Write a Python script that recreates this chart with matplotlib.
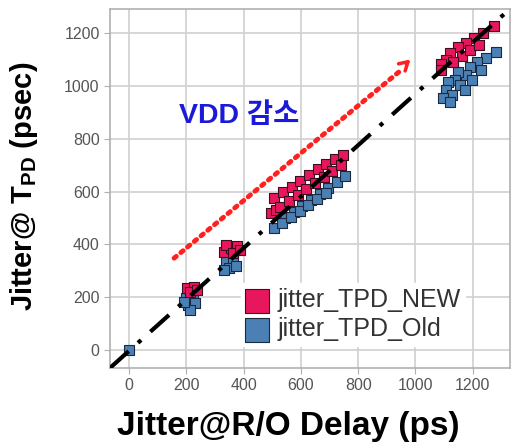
import matplotlib
matplotlib.use("Agg")
import matplotlib.pyplot as plt

plt.rcParams['font.family'] = ['Liberation Sans', 'Noto Sans CJK KR', 'DejaVu Sans']
plt.rcParams['mathtext.fontset'] = 'custom'
plt.rcParams['mathtext.rm'] = 'Liberation Sans'
plt.rcParams['mathtext.bf'] = 'Liberation Sans:bold'

# jitter_TPD_NEW (R/O delay jitter, TPD jitter)
new_x = [202, 227, 213, 237,
         331, 356, 377, 338, 363, 387,
         495, 513, 506, 537, 569, 596, 628, 659, 687, 719, 746,
         527, 558, 589, 617, 649, 680, 708, 739,
         1273, 1235, 1203, 1175, 1148, 1161, 1120, 1106, 1130, 1088, 1088, 1189, 1221]
new_y = [235, 239, 220, 227,
         371, 386, 394, 398, 367, 379,
         519, 530, 576, 598, 617, 640, 663, 686, 705, 723, 739,
         542, 564, 587, 610, 633, 655, 678, 701,
         1227, 1201, 1182, 1163, 1148, 1114, 1125, 1098, 1091, 1083, 1061, 1136, 1155]

# jitter_TPD_Old
old_x = [0,
         199, 223, 206, 230, 213, 192,
         338, 363, 349, 373, 331,
         544, 576, 603, 635, 666, 694, 725, 753,
         506, 534, 565, 596, 624, 656, 687,
         1280, 1245, 1214, 1228, 1189, 1175, 1148, 1137, 1155, 1113, 1106, 1127, 1095, 1120, 1172, 1196]
old_y = [0,
         197, 201, 170, 178, 152, 182,
         333, 341, 311, 318, 303,
         500, 523, 545, 568, 591, 614, 636, 659,
         462, 481, 504, 527, 549, 572, 595,
         1129, 1106, 1091, 1061, 1072, 1042, 1053, 1023, 1004, 1015, 985, 966, 955, 939, 985, 1023]

ticks = [0, 200, 400, 600, 800, 1000, 1200]

fig = plt.figure(figsize=(5.12, 4.47), dpi=100)
ax = fig.add_axes([0.215, 0.177, 0.781, 0.803])

ax.scatter(new_x, new_y, marker="s", s=60, c="#e8175d", edgecolors="#3a1020",
           linewidths=0.8, label="jitter_TPD_NEW", zorder=3)
ax.scatter(old_x, old_y, marker="s", s=60, c="#4a80b4", edgecolors="#1c2a40",
           linewidths=0.8, label="jitter_TPD_Old", zorder=2)

# corner-to-corner dash-dot reference
ax.plot([0, 1], [0, 1], transform=ax.transAxes, color="black", lw=3,
        linestyle=(0, (6, 3, 1, 3)), zorder=4)

# red dotted trend arrow
ax.annotate("", xy=(963, 1072), xytext=(150, 341),
            arrowprops=dict(arrowstyle="-", color="#ff2020", lw=3.5,
                            linestyle=(0, (0.6, 1.2))))
ax.annotate("", xy=(990, 1108), xytext=(960, 1078),
            arrowprops=dict(arrowstyle="->,head_length=0.6,head_width=0.35",
                            color="#ff2020", lw=2.5))
ax.text(385, 886, "VDD 감소", color="#1a1ad8", fontsize=20.5, fontweight="bold",
        family=['Liberation Sans', 'Noto Sans CJK KR'], ha="center", va="center")

ax.set_xlim(-66, 1330)
ax.set_ylim(-68, 1292)
ax.set_xticks(ticks)
ax.set_yticks(ticks)
ax.grid(True, color="#d0d0d0", lw=1.2)
ax.set_axisbelow(True)
for sp in ax.spines.values():
    sp.set_color("#b0b0b0")
    sp.set_linewidth(1.2)
ax.tick_params(axis="both", colors="#b0b0b0", labelcolor="#555555",
               labelsize=11.5, length=4)

ax.set_xlabel("Jitter@R/O Delay (ps)", fontsize=24, fontweight="bold")
ax.xaxis.set_label_coords(0.445, -0.12)
ax.set_ylabel("Jitter@ T$_{\\mathbf{PD}}$ (psec)", fontsize=21, fontweight="bold")
ax.yaxis.set_label_coords(-0.175, 0.505)

leg = ax.legend(loc="lower right", bbox_to_anchor=(0.92, 0.025), frameon=True,
                fontsize=18, markerscale=2.3, handletextpad=0.35,
                borderpad=0.2, labelspacing=0.2, handlelength=0.9,
                labelcolor="#333333")
leg.get_frame().set_edgecolor("white")
leg.get_frame().set_facecolor("white")
leg.get_frame().set_alpha(1.0)
leg.get_frame().set_boxstyle("square", pad=0.0)

fig.savefig("out.png", dpi=100)
